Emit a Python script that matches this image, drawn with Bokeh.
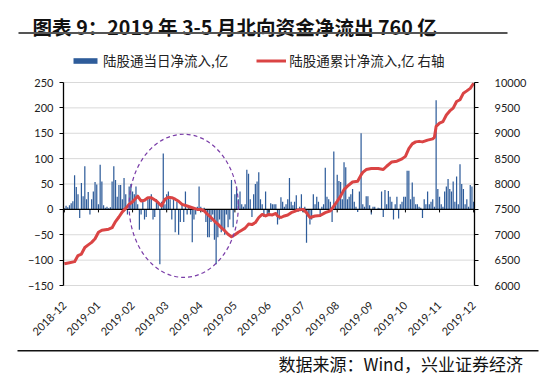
import math
from bokeh.plotting import figure
from bokeh.models import (Range1d, LinearAxis, FixedTicker, SingleIntervalTicker, Label,
                          BoxAnnotation, Legend, LegendItem, ColumnDataSource)
from bokeh.embed import file_html
from bokeh.resources import INLINE

# ---------------- data ----------------
month_labels = ["2018-12", "2019-01", "2019-02", "2019-03", "2019-04", "2019-05", "2019-06",
                "2019-07", "2019-08", "2019-09", "2019-10", "2019-11", "2019-12"]
days_per_label = 20

# daily net inflow (亿), in blocks of 20 trading days
flow_01 = [2, 7, 4, 8, 12, 16, 67, 44, 30, -17, 52, 26, 85, 20, 34, -10, 20, 35, 54, 49]
flow_02 = [10, 88, 55, 8, 3, 5, 2, 4, 55, 85, 58, 25, 48, 48, 20, 62, 30, -10, 45, 50]
flow_03 = [35, 30, 45, 10, -40, -10, 15, -20, -15, 20, 25, 30, -20, -15, 20, 15, -108, 15, 110, 10]
flow_04 = [30, 35, 20, -20, 20, -45, 15, -50, -25, 10, -25, 35, -10, 5, -10, -65, -20, -10, 5, 45]
flow_05 = [5, -5, 3, -25, -55, -55, -25, -10, -60, -108, -55, -20, -45, -40, -50, -10, -35, -20, 58, -35]
flow_06 = [30, 45, 20, 35, 10, 5, 10, 78, 70, 20, -15, 30, 50, 55, 73, 20, 10, -15, 35, -10]
flow_07 = [-10, 12, 10, 10, 10, -30, -20, 24, 15, 5, 10, 20, 62, 15, 8, 15, 28, -5, 5, 30]
flow_08 = [-5, 5, -66, -15, -30, -20, 30, 10, 25, 15, -15, 5, 10, 82, 25, 20, 15, -25, 114, 10]
flow_09 = [68, 56, 54, 20, 93, 83, 20, 25, 30, 40, 15, 5, -5, 35, 150, 10, 5, 26, 26, 8]
flow_10 = [-10, 5, 5, 0, 3, 2, 35, -15, 38, 10, 36, 25, 15, -20, 10, 25, -18, 10, 15, 25]
flow_11 = [25, 76, 76, 20, 53, 25, 10, 10, 5, 3, -17, 20, 10, 35, 10, 15, 20, 5, 215, 40]
flow_12 = [25, 10, 5, 35, 45, 60, 40, 35, 55, 15, 65, 10, 89, 50, 40, 10, 20, 5, 48, 45, 15]

# cumulative net inflow (亿, right axis), sampled by trading-day index
cum_idx = [0, 3, 6, 8, 10, 12, 14, 16, 18, 20, 22, 26, 28, 30, 32, 34, 36, 38, 40, 43, 45, 47,
           49, 51, 54, 57, 59, 61, 63, 65, 67, 69, 72, 75, 78, 80, 82, 84, 86, 88, 90, 92, 94,
           96, 98, 100, 102, 104, 106, 108, 110, 112, 114, 116, 118, 120, 122, 124, 125, 127,
           129, 131, 133, 135, 137, 140, 142, 144, 147, 150, 153, 156, 158, 160, 162, 164, 166,
           169, 172, 174, 175, 177, 180, 184, 187, 189, 192, 195, 198, 200, 202, 204, 206, 208,
           210, 213, 216, 217, 218, 220, 222, 224, 226, 228, 230, 232, 234, 236, 238, 240]
cum_val = [6430, 6450, 6470, 6590, 6620, 6750, 6800, 6850, 6920, 7050, 7090, 7110, 7140, 7260,
           7350, 7450, 7520, 7600, 7650, 7760, 7665, 7680, 7730, 7730, 7665, 7566, 7700, 7740,
           7730, 7700, 7660, 7600, 7566, 7533, 7500, 7500, 7470, 7400, 7340, 7270, 7210, 7140,
           7080, 7010, 6960, 7000, 7050, 7090, 7130, 7210, 7200, 7240, 7340, 7400, 7370, 7400,
           7390, 7420, 7370, 7340, 7370, 7390, 7435, 7460, 7490, 7500, 7435, 7340, 7370, 7380,
           7435, 7470, 7565, 7660, 7760, 7890, 7957, 8040, 8055, 8180, 8230, 8285, 8305, 8305,
           8285, 8350, 8435, 8450, 8495, 8545, 8695, 8790, 8830, 8840, 8830, 8865, 8890, 8920,
           9135, 9200, 9230, 9360, 9440, 9495, 9625, 9660, 9790, 9835, 9885, 9985]

daily = (flow_01 + flow_02 + flow_03 + flow_04 + flow_05 + flow_06 + flow_07 + flow_08 +
         flow_09 + flow_10 + flow_11 + flow_12)
n = len(daily)
tick_pos = [i * days_per_label for i in range(len(month_labels))]

left_lo, left_hi, left_step = -150, 250, 50
right_lo, right_hi, right_step = 6000, 10000, 500

title_text = "图表 9：2019 年 3-5 月北向资金净流出 760 亿"
legend_bar = "陆股通当日净流入,亿"
legend_line = "陆股通累计净流入,亿 右轴"
source_text = "数据来源：Wind，兴业证券经济"

# highlighted period (ellipse annotation, in data units)
ell_x, ell_y, ell_w, ell_h = 70, 7, 64, 282

BAR = "#2E5C9A"
RED = "#DA4444"
FONT = "Lato"
CJK = "Noto Sans CJK SC"

# ---------------- layout geometry (pixels) ----------------
W, H = 555, 384
PL, PR, PT, PB = 63, 474, 82, 285          # plot area edges on the canvas
x_lo, x_hi = -0.5, n - 0.5
sx = (PR - PL) / (x_hi - x_lo)
sy = (PB - PT) / (left_hi - left_lo)
xr = Range1d(x_lo - PL / sx, x_hi + (W - PR) / sx)
yr_lo = left_lo - (H - PB) / sy
yr_hi = left_hi + PT / sy
k = (right_hi - right_lo) / (left_hi - left_lo)
to_right = lambda v: right_lo + (v - left_lo) * k

p = figure(width=W, height=H, output_backend="svg", toolbar_location=None,
           x_range=xr, y_range=Range1d(yr_lo, yr_hi),
           min_border_left=0, min_border_right=0, min_border_top=0, min_border_bottom=0,
           x_axis_type=None, y_axis_type=None)
p.outline_line_color = None
p.background_fill_color = "white"
p.border_fill_color = "white"
p.extra_y_ranges = {"cum": Range1d(to_right(yr_lo), to_right(yr_hi))}

# horizontal grid lines (only across the plot area)
grid_vals = list(range(left_lo, left_hi + 1, left_step))
p.segment(x0=[x_lo] * len(grid_vals), x1=[x_hi] * len(grid_vals), y0=grid_vals, y1=grid_vals,
          line_color="#D9D9D9", line_width=1)

# left axis
yl = LinearAxis(ticker=SingleIntervalTicker(interval=left_step), fixed_location=x_lo,
                bounds=(left_lo, left_hi))
yl.axis_line_color = "black"
yl.axis_line_width = 1.3
yl.major_tick_line_color = "black"
yl.major_tick_out = 4
yl.major_tick_in = 0
yl.minor_tick_line_color = None
yl.major_label_text_font = FONT
yl.major_label_text_font_size = "11px"
yl.major_label_text_color = "#222222"
yl.major_label_standoff = 6
p.add_layout(yl, "left")

# right axis
yr = LinearAxis(y_range_name="cum", ticker=SingleIntervalTicker(interval=right_step),
                fixed_location=x_hi, bounds=(right_lo, right_hi))
yr.axis_line_color = "black"
yr.axis_line_width = 1.3
yr.major_tick_line_color = "black"
yr.major_tick_out = 4
yr.major_tick_in = 0
yr.minor_tick_line_color = None
yr.major_label_text_font = FONT
yr.major_label_text_font_size = "11px"
yr.major_label_text_color = "#222222"
yr.major_label_standoff = 16
p.add_layout(yr, "right")

# bottom axis (labels only)
xb = LinearAxis(ticker=FixedTicker(ticks=tick_pos), fixed_location=left_lo,
                bounds=(x_lo, x_hi))
xb.major_label_overrides = {t: lab for t, lab in zip(tick_pos, month_labels)}
xb.axis_line_color = None
xb.major_tick_line_color = None
xb.minor_tick_line_color = None
xb.major_label_orientation = math.pi / 4
xb.major_label_text_font = FONT
xb.major_label_text_font_size = "11px"
xb.major_label_text_color = "#222222"
xb.major_label_standoff = 12
p.add_layout(xb, "below")

# bars
src = ColumnDataSource(dict(x=list(range(n)), y=daily))
bars = p.vbar(x="x", top="y", bottom=0, width=0.72, source=src, fill_color=BAR,
              line_color=None)

# zero line and small ticks on it
p.segment(x0=[x_lo], x1=[x_hi], y0=[0], y1=[0], line_color="black", line_width=1.3)
p.segment(x0=tick_pos, y0=[0] * len(tick_pos), x1=tick_pos, y1=[-6] * len(tick_pos),
          line_color="black", line_width=1)

# cumulative line
line = p.line(x=cum_idx, y=cum_val, y_range_name="cum", line_color=RED, line_width=3,
              line_join="round")

# ellipse annotation
p.ellipse(x=[ell_x], y=[ell_y], width=[ell_w], height=[ell_h], fill_color=None,
          line_color="#7A3DA8", line_dash="4 3", line_width=1.2)

# legend
leg = Legend(items=[LegendItem(label=legend_bar, renderers=[bars]),
                    LegendItem(label=legend_line, renderers=[line])],
             orientation="horizontal", location=(70, H - 70))
leg.border_line_color = None
leg.background_fill_alpha = 0
leg.padding = 0
leg.margin = 0
leg.spacing = 28
leg.glyph_width = 30
leg.glyph_height = 7
leg.label_standoff = 3
leg.label_text_font = CJK
leg.label_text_font_size = "13.5px"
leg.label_text_color = "#222222"
leg.label_height = 16
p.add_layout(leg)

# title, rule lines, source
p.add_layout(Label(x=32, y=H - 26, x_units="screen", y_units="screen", text=title_text,
                   text_font=CJK, text_font_size="19.6px", text_font_style="bold",
                   text_color="#111111", text_baseline="alphabetic"))
p.add_layout(BoxAnnotation(left=18, right=507, top=H - 31.5, bottom=H - 33.5,
                           left_units="screen", right_units="screen", top_units="screen",
                           bottom_units="screen", fill_color="#555555", fill_alpha=1,
                           line_color=None))
p.add_layout(BoxAnnotation(left=17, right=538, top=H - 349.5, bottom=H - 351,
                           left_units="screen", right_units="screen", top_units="screen",
                           bottom_units="screen", fill_color="#111111", fill_alpha=1,
                           line_color=None))
p.add_layout(Label(x=278, y=H - 363, x_units="screen", y_units="screen", text=source_text,
                   text_font=CJK, text_font_size="17px", text_color="#111111",
                   text_baseline="middle"))

open("out.html", "w").write(file_html(p, INLINE))
